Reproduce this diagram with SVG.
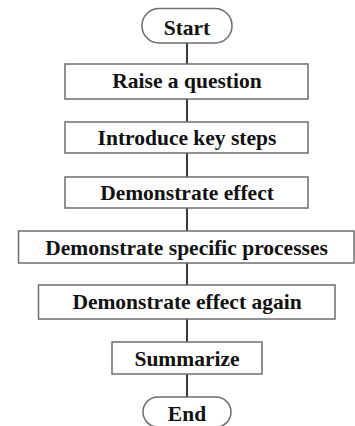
<svg xmlns="http://www.w3.org/2000/svg" width="355" height="426" viewBox="0 0 355 426">
<style>
.box{fill:#fff;stroke:#6e6e6e;stroke-width:1.5}
.t{font-family:"Liberation Serif","Times New Roman",serif;font-weight:bold;font-size:21.5px;fill:#111;text-anchor:middle}
.c{stroke:#3a3a3a;stroke-width:2;fill:none}
</style>
<rect width="355" height="426" fill="#fff"/>
<g id="connectors">
<line class="c" x1="187" y1="43" x2="187" y2="64"/>
<line class="c" x1="187" y1="99" x2="187" y2="122"/>
<line class="c" x1="187" y1="153" x2="187" y2="177"/>
<line class="c" x1="187" y1="208" x2="187" y2="231"/>
<line class="c" x1="187" y1="263" x2="187" y2="285"/>
<line class="c" x1="187" y1="319" x2="187" y2="342"/>
<line class="c" x1="187" y1="374" x2="187" y2="397"/>
</g>
<g id="start"><rect class="box" x="142" y="8.5" width="90" height="34.5" rx="17" ry="17"/><text class="t" x="187" y="34.5">Start</text></g>
<g id="raise"><rect class="box" x="65" y="64" width="243" height="35"/><text class="t" x="187" y="88">Raise a question</text></g>
<g id="introduce"><rect class="box" x="65" y="122" width="243" height="31"/><text class="t" x="187" y="144.5">Introduce key steps</text></g>
<g id="effect"><rect class="box" x="65" y="177" width="243" height="31"/><text class="t" x="187" y="199.5">Demonstrate effect</text></g>
<g id="specific"><rect class="box" x="18.5" y="231" width="335.5" height="32"/><text class="t" x="186.5" y="254.5">Demonstrate specific processes</text></g>
<g id="again"><rect class="box" x="38.5" y="285" width="296.5" height="34"/><text class="t" x="187" y="309">Demonstrate effect again</text></g>
<g id="summarize"><rect class="box" x="112" y="342" width="150" height="32"/><text class="t" x="187" y="365.5">Summarize</text></g>
<g id="end"><rect class="box" x="143" y="397" width="88" height="30" rx="15" ry="15"/><text class="t" x="187" y="420.5">End</text></g>
</svg>
